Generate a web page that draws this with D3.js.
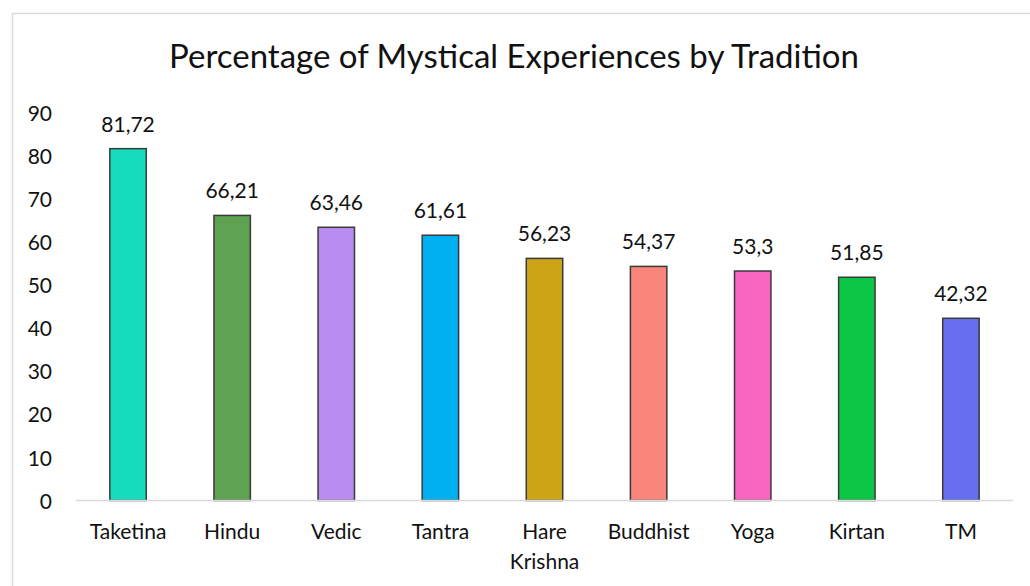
<!DOCTYPE html>
<html>

<head>
    <meta charset="utf-8">
    <title>Mystical Experiences</title>
    <script src="https://d3js.org/d3.v7.min.js"></script>
    <style>
        body { margin: 0; background: #fff; }
        text { font-family: Lato, "Open Sans", sans-serif; fill: #111; }
    </style>
</head>

<body>
    <svg width="1030" height="586"></svg>
    <script>
        const traditions = ["Taketina", "Hindu", "Vedic", "Tantra", "Hare Krishna", "Buddhist", "Yoga", "Kirtan", "TM"]
        const percentages = [81.72, 66.21, 63.46, 61.61, 56.23, 54.37, 53.3, 51.85, 42.32]
        const barColors = ["#14dcbc", "#5fa352", "#b98cf0", "#00b0f0", "#cca516", "#f9847a", "#f865c0", "#0cc646", "#676ef0"]
        const yTicks = [0, 10, 20, 30, 40, 50, 60, 70, 80, 90]

        const svg = d3.select("svg")
        const width = +svg.attr("width")
        const labelSize = "21px"

        // outer chart frame (only top and left visible)
        svg.append("rect")
            .attr("x", 12.5).attr("y", 13.5)
            .attr("width", 1100).attr("height", 700)
            .attr("fill", "none")
            .attr("stroke", "#d9d9d9")
            .attr("stroke-width", 1.5)

        svg.append("text")
            .attr("x", 514)
            .attr("y", 68)
            .attr("text-anchor", "middle")
            .style("font-size", "33px")
            .text("Percentage of Mystical Experiences by Tradition")

        const margin = { left: 76, right: 17 }

        const x = d3.scaleBand()
            .domain(traditions)
            .range([margin.left, width - margin.right])
            .paddingInner(0.65)
            .paddingOuter(0.325)

        const y = d3.scaleLinear()
            .domain([0, 90])
            .range([500.5, 113])

        // y axis labels only
        const yAxis = d3.axisLeft(y).tickValues(yTicks).tickSize(0).tickPadding(0)
        const gy = svg.append("g").attr("transform", "translate(52,0)").call(yAxis)
        gy.select(".domain").remove()
        gy.selectAll("text").style("font-size", labelSize).attr("fill", "#111").attr("dy", "0.36em")

        const pairs = traditions.map((t, i) => ({ t, v: percentages[i], c: barColors[i] }))

        svg.append("g").selectAll("rect")
            .data(pairs)
            .join("rect")
            .attr("x", d => x(d.t))
            .attr("y", d => y(d.v))
            .attr("width", x.bandwidth())
            .attr("height", d => y(0) - y(d.v))
            .attr("fill", d => d.c)
            .attr("stroke", "#3a3a3a")
            .attr("stroke-width", 1.5)

        // baseline
        svg.append("line")
            .attr("x1", margin.left).attr("x2", width - margin.right)
            .attr("y1", y(0)).attr("y2", y(0))
            .attr("stroke", "#d9d9d9")
            .attr("stroke-width", 1.5)

        // value labels
        svg.append("g").selectAll("text")
            .data(pairs)
            .join("text")
            .attr("x", d => x(d.t) + x.bandwidth() / 2)
            .attr("y", d => y(d.v) - 17)
            .attr("text-anchor", "middle")
            .style("font-size", labelSize)
            .text(d => String(d.v).replace(".", ","))

        // category labels, wrapped on spaces
        const xAxis = d3.axisBottom(x).tickSize(0).tickPadding(0)
        const gx = svg.append("g").attr("transform", `translate(0,${y(0)})`).call(xAxis)
        gx.select(".domain").remove()
        gx.selectAll("text").each(function (d) {
            const el = d3.select(this)
            el.text(null).attr("y", 0).attr("dy", null).attr("fill", "#111").style("font-size", labelSize)
            d.split(" ").forEach((w, i) => {
                el.append("tspan").attr("x", 0).attr("y", 38.5 + i * 29.5).text(w)
            })
        })
    </script>
</body>

</html>
